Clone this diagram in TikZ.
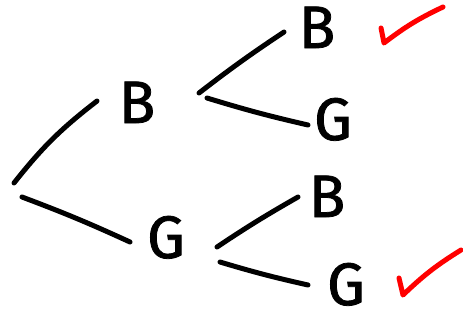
\documentclass[tikz,border=0pt]{standalone}
\usepackage{fontspec}
\setmainfont{Fira Sans}
\newfontfamily\handletters{Fira Sans}[BoldFont={Fira Sans}, BoldFeatures={FakeBold=1.3}]
\usetikzlibrary{calc}
\begin{document}
\begin{tikzpicture}[x=1pt,y=-1pt,
  letter/.style={anchor=base,inner sep=0pt,font=\fontsize{60}{60}\handletters\bfseries},
  branch/.style={line width=5pt,line cap=round,black},
  tick/.style={line width=5pt,line cap=round,line join=round,red}]
\useasboundingbox (0,0) rectangle (463,322);
\fill[white] (0,0) rectangle (463,322);
% outcome letters
\node[letter] (B1) at (137,123) {B};
\node[letter] (G1) at (166,258) {G};
\node[letter] (B2) at (317,48) {B};
\node[letter] (G2) at (333,140) {G};
\node[letter] (B3) at (327,217) {B};
\node[letter] (G3) at (346,305) {G};
\coordinate (root) at (18,190);
% first-level branches
\draw[branch] ($(root)+(-4,-7)$) to[bend left=7] ($(B1.base)+(-40,-22)$);
\draw[branch] ($(root)+(4,7)$) to[bend left=2] ($(G1.base)+(-36,-16)$);
% second-level branches
\draw[branch] ($(B1.base)+(62,-30)$) to[bend left=2] ($(B2.base)+(-33,-16)$);
\draw[branch] ($(B1.base)+(70,-25)$) to[bend right=2] ($(G2.base)+(-25,-15)$);
\draw[branch] ($(G1.base)+(51,-11)$) to[bend left=2] ($(B3.base)+(-29,-20)$);
\draw[branch] ($(G1.base)+(54,4)$) to[bend right=2] ($(G3.base)+(-38,-20)$);
% ticks beside the chosen outcomes
\draw[tick] ($(B2.base)+(64,-20)$) -- ($(B2.base)+(67,-5)$) to[bend left=6] ($(B2.base)+(126,-41)$);
\draw[tick] ($(G3.base)+(53,-27)$) -- ($(G3.base)+(57,-10)$) to[bend left=6] ($(G3.base)+(115,-55)$);
\end{tikzpicture}
\end{document}
